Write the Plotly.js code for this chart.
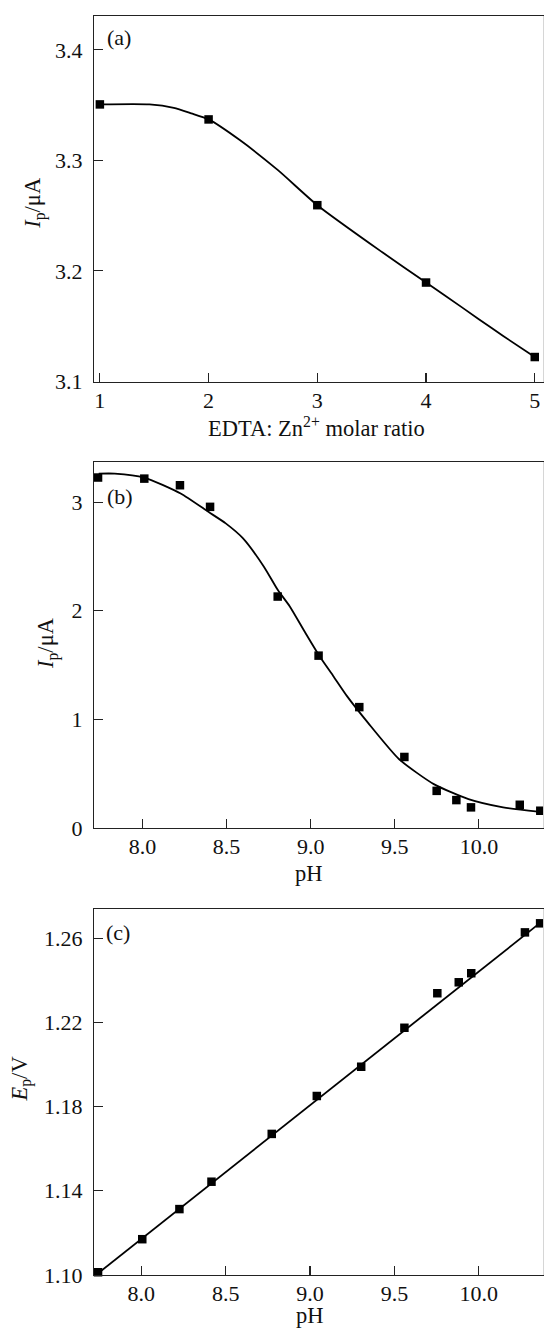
<!DOCTYPE html>
<html>
<head>
<meta charset="utf-8">
<script src="https://cdn.plot.ly/plotly-3.0.1.min.js"></script>
<style>html,body{margin:0;padding:0;background:#fff;}#chart{width:544px;height:1329px;}</style>
</head>
<body>
<div id="chart"></div>
<script>
// Panel (a): EDTA : Zn2+ molar ratio
const aRatio = [1, 2, 3, 4, 5];
const aIp = [3.3506, 3.3370, 3.2594, 3.1894, 3.1220];
const aFitX = [1, 1.456, 1.680, 1.840, 2.0, 2.287, 2.638, 3.0, 3.595, 4.0, 4.170, 4.489, 4.713, 5.0];
const aFitY = [3.3506, 3.3506, 3.3475, 3.3425, 3.337, 3.3183, 3.2911, 3.2594, 3.2170, 3.1894, 3.1780, 3.1560, 3.1408, 3.1220];

// Panel (b): Ip vs pH
const bPH = [7.736, 8.011, 8.223, 8.402, 8.804, 9.047, 9.289, 9.557, 9.749, 9.866, 9.953, 10.243, 10.365];
const bIp = [3.227, 3.217, 3.156, 2.957, 2.131, 1.587, 1.113, 0.654, 0.342, 0.257, 0.190, 0.214, 0.159];
const bFitX = [7.74, 7.835, 8.010, 8.227, 8.392, 8.495, 8.598, 8.722, 8.804, 8.876, 8.969, 9.047, 9.134, 9.216, 9.340, 9.526, 9.732, 9.938, 10.144, 10.351, 10.387];
const bFitY = [3.263, 3.263, 3.227, 3.080, 2.911, 2.805, 2.667, 2.406, 2.193, 2.040, 1.795, 1.596, 1.400, 1.214, 0.970, 0.633, 0.404, 0.266, 0.190, 0.150, 0.145];

// Panel (c): Ep vs pH
const cPH = [7.744, 8.006, 8.226, 8.416, 8.773, 9.040, 9.303, 9.559, 9.754, 9.881, 9.955, 10.273, 10.363];
const cEp = [1.1013, 1.1170, 1.1313, 1.1443, 1.1670, 1.1850, 1.1989, 1.2174, 1.2338, 1.2390, 1.2433, 1.2627, 1.2670];
const cFitX = [7.744, 10.363];
const cFitY = [1.1008, 1.2672];

// Tick labels
const aXTicks = [1, 2, 3, 4, 5];
const aYTicks = [3.1, 3.2, 3.3, 3.4];
const phTicks = [8.0, 8.5, 9.0, 9.5, 10.0];
const bYTicks = [0, 1, 2, 3];
const cYTicks = [1.10, 1.14, 1.18, 1.22, 1.26];

const FONT = '"Liberation Serif", "Times New Roman", Times, serif';
const INK = '#111';
const lineStyle = {color: '#000', width: 1.8, shape: 'spline', smoothing: 0.6};
const mk = {symbol: 'square', size: 8.5, color: '#000', line: {width: 0}};

const traces = [
  {x: aFitX, y: aFitY, xaxis: 'x', yaxis: 'y', mode: 'lines', line: lineStyle, hoverinfo: 'skip'},
  {x: aRatio, y: aIp, xaxis: 'x', yaxis: 'y', mode: 'markers', marker: mk, cliponaxis: false},
  {x: bFitX, y: bFitY, xaxis: 'x2', yaxis: 'y2', mode: 'lines', line: lineStyle, hoverinfo: 'skip'},
  {x: bPH, y: bIp, xaxis: 'x2', yaxis: 'y2', mode: 'markers', marker: mk, cliponaxis: false},
  {x: cFitX, y: cFitY, xaxis: 'x3', yaxis: 'y3', mode: 'lines', line: {color: '#000', width: 1.8}, hoverinfo: 'skip'},
  {x: cPH, y: cEp, xaxis: 'x3', yaxis: 'y3', mode: 'markers', marker: mk, cliponaxis: false}
];

function ax(extra) {
  return Object.assign({
    showgrid: false, zeroline: false, showline: true,
    linecolor: '#222', linewidth: 1.2,
    ticks: 'inside', ticklen: 9, tickwidth: 1.1, tickcolor: '#222',
    tickfont: {family: FONT, size: 22, color: INK},
    fixedrange: true
  }, extra);
}

// plot-area pixel edges (top/bottom) of each panel, converted to paper fractions
const PT = 16, PB = 1275, PH = PB - PT;
const frac = px => (PB - px) / PH;
const dA = [frac(382), 1], dB = [frac(828), frac(462)], dC = [0, frac(909)];

function rightEdge(d) {
  return {type: 'line', xref: 'paper', yref: 'paper', x0: 0.999, x1: 0.999, y0: d[0], y1: d[1],
          line: {color: '#d4d4d4', width: 1}};
}

const layout = {
  width: 544, height: 1329,
  margin: {l: 94, r: 0, t: PT, b: 1329 - PB},
  paper_bgcolor: '#fff', plot_bgcolor: '#fff',
  showlegend: false,
  font: {family: FONT, size: 22, color: INK},
  xaxis: ax({domain: [0, 1], anchor: 'y', mirror: true, range: [0.946, 5.085], tickvals: aXTicks, ticktext: aXTicks.map(String), ticklabelstandoff: -2}),
  yaxis: ax({domain: dA, anchor: 'x', range: [3.0994, 3.4306], tickvals: aYTicks, ticktext: aYTicks.map(v => v.toFixed(1)), ticklabelstandoff: 6}),
  xaxis2: ax({domain: [0, 1], anchor: 'y2', mirror: true, range: [7.712, 10.387], tickvals: phTicks, ticktext: phTicks.map(v => v.toFixed(1)), ticklabelstandoff: -2}),
  yaxis2: ax({domain: dB, anchor: 'x2', range: [0, 3.37], tickvals: bYTicks, ticktext: bYTicks.map(String), ticklabelstandoff: 6}),
  xaxis3: ax({domain: [0, 1], anchor: 'y3', mirror: true, range: [7.720, 10.386], tickvals: phTicks, ticktext: phTicks.map(v => v.toFixed(1)), ticklabelstandoff: -2}),
  yaxis3: ax({domain: dC, anchor: 'x3', range: [1.10, 1.2738], tickvals: cYTicks, ticktext: cYTicks.map(v => v.toFixed(2)), ticklabelstandoff: 6}),
  shapes: [rightEdge(dA), rightEdge(dB), rightEdge(dC)],
  annotations: [
    {text: '(a)', xref: 'paper', yref: 'paper', x: 0.0244, y: frac(37.5), xanchor: 'left', yanchor: 'middle', showarrow: false, font: {family: FONT, size: 22, color: INK}},
    {text: '(b)', xref: 'paper', yref: 'paper', x: 0.0244, y: frac(496.7), xanchor: 'left', yanchor: 'middle', showarrow: false, font: {family: FONT, size: 22, color: INK}},
    {text: '(c)', xref: 'paper', yref: 'paper', x: 0.0222, y: frac(932), xanchor: 'left', yanchor: 'middle', showarrow: false, font: {family: FONT, size: 22, color: INK}},
    {text: 'EDTA: Zn<sup>2+</sup> molar ratio', xref: 'paper', yref: 'paper', x: 0.4947, y: frac(427), xanchor: 'center', yanchor: 'middle', showarrow: false, font: {family: FONT, size: 22.5, color: INK}},
    {text: 'pH', xref: 'paper', yref: 'paper', x: 0.478, y: frac(873), xanchor: 'center', yanchor: 'middle', showarrow: false, font: {family: FONT, size: 22.5, color: INK}},
    {text: 'pH', xref: 'paper', yref: 'paper', x: 0.479, y: frac(1315), xanchor: 'center', yanchor: 'middle', showarrow: false, font: {family: FONT, size: 22.5, color: INK}},
    {text: '<i>I</i><sub>p</sub>/μA', xref: 'paper', yref: 'paper', x: (33.8 - 94) / 450, y: frac(203), xanchor: 'center', yanchor: 'middle', textangle: -90, showarrow: false, font: {family: FONT, size: 22.5, color: INK}},
    {text: '<i>I</i><sub>p</sub>/μA', xref: 'paper', yref: 'paper', x: (47 - 94) / 450, y: frac(643), xanchor: 'center', yanchor: 'middle', textangle: -90, showarrow: false, font: {family: FONT, size: 22.5, color: INK}},
    {text: '<i>E</i><sub>p</sub>/V', xref: 'paper', yref: 'paper', x: (20.5 - 94) / 450, y: frac(1079), xanchor: 'center', yanchor: 'middle', textangle: -90, showarrow: false, font: {family: FONT, size: 22.5, color: INK}}
  ]
};

Plotly.newPlot('chart', traces, layout, {displayModeBar: false, staticPlot: true});
</script>
</body>
</html>
